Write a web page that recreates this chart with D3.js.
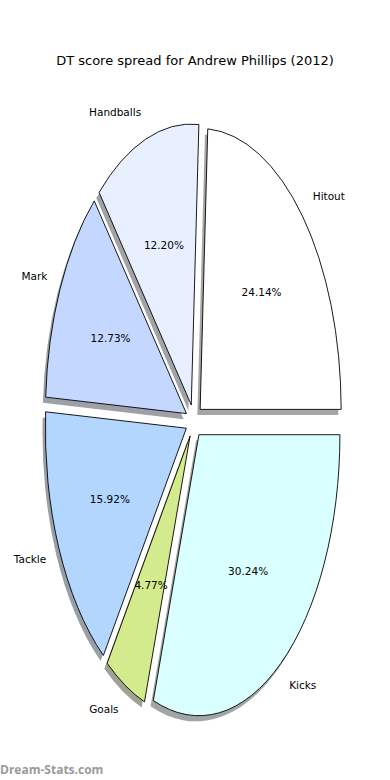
<!DOCTYPE html>
<html>
<head>
<meta charset="utf-8">
<script src="https://cdn.jsdelivr.net/npm/d3@7"></script>
<style>
  body { margin: 0; background: #fff; }
  text { font-family: "DejaVu Sans", sans-serif; fill: #000; }
</style>
</head>
<body>
<svg width="390" height="780"></svg>
<script>
var categories = ["Hitout", "Handballs", "Mark", "Tackle", "Goals", "Kicks"];
var shares = [24.14, 12.20, 12.73, 15.92, 4.77, 30.24];
var colors = ["#ffffff", "#e8f0ff", "#c4d8ff", "#b3d6ff", "#d3eb8c", "#d9ffff"];
var explode = 0.06;

var cx = 194, cy = 421, rx = 141, ry = 281;
var svg = d3.select("svg");

// unit ellipse -> pixels
var x = d3.scaleLinear().domain([-1, 1]).range([cx - rx, cx + rx]);
var y = d3.scaleLinear().domain([-1, 1]).range([cy + ry, cy - ry]);

svg.append("text")
  .attr("x", 195).attr("y", 61)
  .attr("text-anchor", "middle").attr("dominant-baseline", "middle")
  .style("font-size", "13px")
  .text("DT score spread for Andrew Phillips (2012)");

// counterclockwise from 3 o'clock, like matplotlib
var pie = d3.pie().sort(null).startAngle(Math.PI / 2).endAngle(Math.PI / 2 - 2 * Math.PI);
var slices = pie(shares);
var arc = d3.arc().innerRadius(0).outerRadius(rx);

var g = svg.append("g")
  .attr("transform", "translate(" + cx + "," + cy + ") scale(1," + (ry / rx) + ")");

slices.forEach(function(d, i) {
  var m = (d.startAngle + d.endAngle) / 2;
  var ox = Math.sin(m) * explode * rx, oy = -Math.cos(m) * explode * rx;
  var c = d3.rgb(colors[i]);
  g.append("path")
    .attr("d", arc(d))
    .attr("transform", "translate(" + (ox - 0.02 * rx) + "," + (oy + 0.02 * rx) + ")")
    .attr("fill", d3.rgb(c.r * 0.3, c.g * 0.3, c.b * 0.3))
    .attr("fill-opacity", 0.5);
  g.append("path")
    .attr("d", arc(d))
    .attr("transform", "translate(" + ox + "," + oy + ")")
    .attr("fill", colors[i])
    .attr("stroke", "#000")
    .attr("stroke-width", 0.9)
    .attr("stroke-linejoin", "round")
    .attr("vector-effect", "non-scaling-stroke");
});

slices.forEach(function(d, i) {
  var m = (d.startAngle + d.endAngle) / 2;
  var s = Math.sin(m), c = -Math.cos(m);
  var rl = 1.1 + explode, rp = 0.6 + explode;
  svg.append("text")
    .attr("x", x(rl * s)).attr("y", y(-rl * c))
    .attr("text-anchor", s > 0 ? "start" : "end")
    .attr("dominant-baseline", "middle")
    .style("font-size", "10.5px")
    .text(categories[i]);
  svg.append("text")
    .attr("x", x(rp * s)).attr("y", y(-rp * c))
    .attr("text-anchor", "middle")
    .attr("dominant-baseline", "middle")
    .style("font-size", "10.5px")
    .text(shares[i].toFixed(2) + "%");
});

svg.append("text")
  .attr("x", 0).attr("y", 771)
  .attr("dominant-baseline", "middle")
  .style("font-size", "12px").style("font-weight", "bold")
  .style("font-family", "'Open Sans', sans-serif")
  .style("fill", "#9a9a9a")
  .text("Dream-Stats.com");
</script>
</body>
</html>
